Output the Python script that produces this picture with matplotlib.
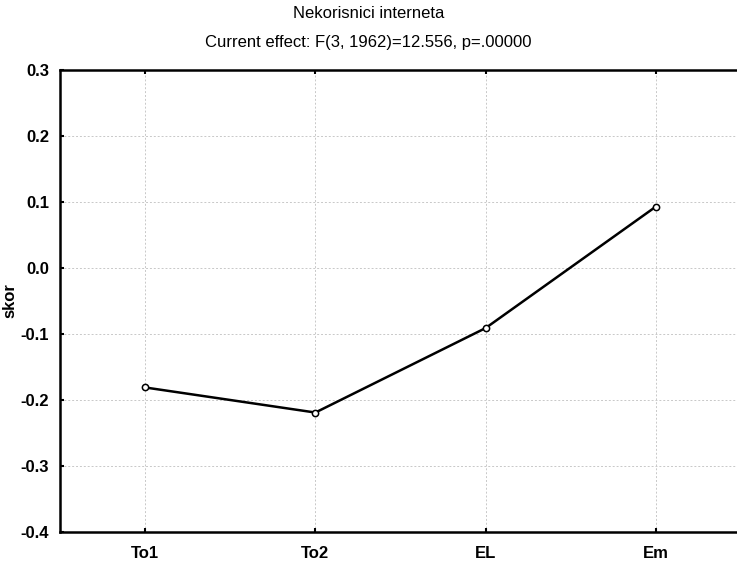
import numpy as np
import matplotlib.pyplot as plt

categories = ['To1', 'To2', 'EL', 'Em']
skor = [-0.181, -0.219, -0.091, 0.093]
y_ticks = [-0.4, -0.3, -0.2, -0.1, 0.0, 0.1, 0.2, 0.3]

plt.rcParams['font.family'] = ['Liberation Sans', 'DejaVu Sans']

fig = plt.figure(figsize=(7.37, 5.61), dpi=100)
# axes extend a little past the right edge, like the original export
ax = fig.add_axes([60/737, 1 - 532/561, 681/737, 462/561])

x = np.arange(len(categories))
ax.plot(x, skor, color='black', lw=1.8, marker='o', ms=4.5,
        mfc='white', mec='black', mew=1.1, zorder=3)

ax.set_xlim(-0.5, 3.5)
ax.set_ylim(-0.4, 0.3)
ax.set_xticks(x)
ax.set_xticklabels(categories, fontsize=12, fontweight='bold')
ax.set_yticks(y_ticks)
ax.set_yticklabels(['%.1f' % v for v in y_ticks], fontsize=12, fontweight='bold')
ax.tick_params(direction='in', length=3, width=1.5, top=True)
ax.tick_params(axis='x', pad=10)
ax.tick_params(axis='y', pad=8)
ax.grid(True, color='#c8c8c8', linestyle=(0, (2, 2)), lw=0.7)
ax.set_axisbelow(True)

for s in ['left', 'bottom', 'top']:
    ax.spines[s].set_linewidth(1.8)
ax.spines['right'].set_visible(False)

ax.set_ylabel('skor', fontsize=12, fontweight='bold', labelpad=2)

fig.text(0.5, 1 - 14/561, 'Nekorisnici interneta', ha='center', va='center', fontsize=12)
fig.text(0.5, 1 - 42/561, 'Current effect: F(3, 1962)=12.556, p=.00000',
         ha='center', va='center', fontsize=12)

fig.savefig('out.png', dpi=100)
